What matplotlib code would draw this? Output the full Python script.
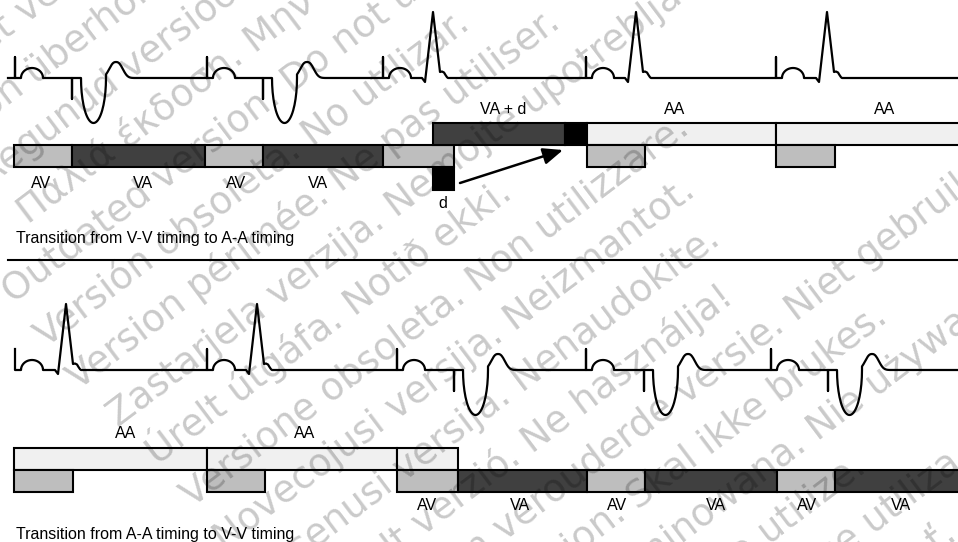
import numpy as np
import matplotlib
matplotlib.use("Agg")
from matplotlib import pyplot as plt
from matplotlib.patches import Rectangle, FancyArrowPatch

plt.rcParams['font.family'] = ['Liberation Sans', 'DejaVu Sans']

W, H = 958, 542

# ---- top strip: transition from V-V timing to A-A timing ----
top_base = 78
top_a_pace = [15, 207, 383, 586, 776]      # atrial pacing spikes
top_v_pace = [72, 263]                      # ventricular pacing spikes
top_r_wave = [433, 636, 827]                # intrinsic R waves

top_main_edges = [14, 72, 205, 263, 383, 454]
top_main_kinds = ['AV', 'VA', 'AV', 'VA', 'AV']
top_upper_edges = [433, 565, 587, 776, 962]
top_upper_kinds = ['VA', 'd', 'AA', 'AA']
top_av_boxes = [(587, 645), (776, 835)]
top_d_box = (433, 454)

top_low_labels = ['AV', 'VA', 'AV', 'VA']
top_low_label_x = [41, 143, 236, 318]
top_up_labels = ['VA + d', 'AA', 'AA']
top_up_label_x = [503, 675, 885]

# ---- bottom strip: transition from A-A timing to V-V timing ----
bot_base = 370
bot_a_pace = [15, 207, 397, 586, 771]
bot_v_pace = [454, 644, 828]
bot_r_wave = [66, 257]

bot_aa_edges = [14, 207, 397, 458]
bot_av_boxes = [(14, 73), (207, 265)]
bot_low_edges = [397, 458, 587, 645, 777, 835, 962]
bot_low_kinds = ['AV', 'VA', 'AV', 'VA', 'AV', 'VA']

bot_up_labels = ['AA', 'AA']
bot_up_label_x = [126, 305]
bot_low_labels = ['AV', 'VA', 'AV', 'VA', 'AV', 'VA']
bot_low_label_x = [427, 520, 617, 716, 807, 901]

colors = {'AV': '#bebebe', 'VA': '#404040', 'AA': '#f0f0f0', 'd': '#000000'}

# watermark (one phrase per diagonal line)
wm_text = [
    "Forældet version. Må ikke anvendes.",
    "Version überholt. Nicht verwenden.",
    "Aegunud versioon. Ärge kasutage.",
    "Παλιά έκδοση. Μην την χρησιμοποιείτε.",
    "Outdated version. Do not use.",
    "Versión obsoleta. No utilizar.",
    "Version périmée. Ne pas utiliser.",
    "Zastarjela verzija. Nemojte upotrebljavati.",
    "Úrelt útgáfa. Notið ekki.",
    "Versione obsoleta. Non utilizzare.",
    "Novecojusi versija. Neizmantot.",
    "Pasenusi versija. Nenaudokite.",
    "Elavult verzió. Ne használja!",
    "Dit is een verouderde versie. Niet gebruiken.",
    "Utdatert versjon. Skal ikke brukes.",
    "Wersja przeterminowana. Nie używać.",
    "Versão obsoleta. Não utilize.",
    "Versiune expirată. A nu se utiliza.",
    "Zastaraná verzia. Nepoužívať.",
]
wm_shift = [0, 0, 50, 60, 0, 0, 0, 10, 18, 20, 20, 30, 48, 60, 45, 70, 50, 45, 50]


def atrial(x0):
    t = np.linspace(0, np.pi, 30)
    px = x0 + 17 - 11 * np.cos(t)
    py = -10 * np.sin(t)
    pts = [(x0, 0), (x0, -21), (x0, 0)]
    return pts + list(zip(px, py))


def paced_v(xv):
    pts = [(xv, 0), (xv, 21), (xv, 0), (xv + 9, 0)]
    t = np.linspace(0, np.pi, 40)
    pts += list(zip(xv + 9 + 12.5 * (1 - np.cos(t)), 45 * np.sin(t)))
    tx = np.linspace(xv + 34, xv + 62, 40)
    pts += list(zip(tx, -16 * np.exp(-np.abs((tx - (xv + 44)) / 8.5) ** 2.5)))
    return pts


def native_r(xr):
    dx = [-11, -8, 0, 7, 9, 11, 12.5, 14, 15]
    dy = [0, 4, -66, -6, -6.5, -5.5, -3, -0.8, 0]
    return [(xr + a, b) for a, b in zip(dx, dy)]


def trace(base, a_pace, v_pace, r_wave, start=None):
    events = [(x, atrial) for x in a_pace] + [(x, paced_v) for x in v_pace] \
        + [(x, native_r) for x in r_wave]
    events.sort(key=lambda e: e[0])
    pts = []
    if start is not None:
        pts.append((start, 0))
    for x, f in events:
        seg = f(x)
        if start is None and not pts:
            seg = seg[1:]
        pts += seg
    pts.append((W, 0))
    arr = np.array(pts, dtype=float)
    return arr[:, 0], arr[:, 1] + base


fig = plt.figure(figsize=(W / 100, H / 100), dpi=100)
ax = fig.add_axes([0, 0, 1, 1])
ax.set_xlim(0, W)
ax.set_ylim(H, 0)
ax.axis('off')

lw = 1.5
fs = 11.5


def box(x0, x1, y0, y1, kind):
    ax.add_patch(Rectangle((x0, y0), x1 - x0, y1 - y0, facecolor=colors[kind],
                           edgecolor='black', lw=lw, zorder=2))


# ECG traces
x, y = trace(top_base, top_a_pace, top_v_pace, top_r_wave, start=8)
ax.plot(x, y, color='black', lw=1.6, zorder=3)
x, y = trace(bot_base, bot_a_pace, bot_v_pace, bot_r_wave)
ax.plot(x, y, color='black', lw=1.6, zorder=3)

# top timing bars
for i, k in enumerate(top_main_kinds):
    box(top_main_edges[i], top_main_edges[i + 1], 145, 167, k)
for i, k in enumerate(top_upper_kinds):
    box(top_upper_edges[i], top_upper_edges[i + 1], 123, 145, k)
for a, b in top_av_boxes:
    box(a, b, 145, 167, 'AV')
box(top_d_box[0], top_d_box[1], 167, 190, 'd')

for s, xl in zip(top_low_labels, top_low_label_x):
    ax.text(xl, 183, s, ha='center', va='center', fontsize=fs)
ax.text(443, 204, 'd', ha='center', va='center', fontsize=fs)
for s, xl in zip(top_up_labels, top_up_label_x):
    ax.text(xl, 110, s, ha='center', va='center', fontsize=fs)

ax.add_patch(FancyArrowPatch((460, 183), (563, 150),
                             arrowstyle='-|>,head_length=0.6,head_width=0.25',
                             mutation_scale=20, lw=1.8, color='black',
                             shrinkA=0, shrinkB=0, zorder=4))

ax.text(16, 239, 'Transition from V-V timing to A-A timing', ha='left',
        va='center', fontsize=fs)
ax.plot([8, W], [260, 260], color='black', lw=lw)

# bottom timing bars
for i in range(len(bot_aa_edges) - 1):
    box(bot_aa_edges[i], bot_aa_edges[i + 1], 448, 470, 'AA')
for a, b in bot_av_boxes:
    box(a, b, 470, 492, 'AV')
for i, k in enumerate(bot_low_kinds):
    box(bot_low_edges[i], bot_low_edges[i + 1], 470, 492, k)

for s, xl in zip(bot_up_labels, bot_up_label_x):
    ax.text(xl, 433, s, ha='center', va='center', fontsize=fs)
for s, xl in zip(bot_low_labels, bot_low_label_x):
    ax.text(xl, 506, s, ha='center', va='center', fontsize=fs)
ax.text(16, 534, 'Transition from A-A timing to V-V timing', ha='left',
        va='center', fontsize=fs)

# diagonal watermark
ang = np.deg2rad(37)
d = np.array([np.cos(ang), -np.sin(ang)])
perp = np.array([np.sin(ang), np.cos(ang)]) * 54
origin = np.array([13.0, 304.0])
for i, (s, sh) in enumerate(zip(wm_text, wm_shift)):
    k = i - 4
    p = origin + k * perp + sh * d
    ax.text(p[0], p[1], s, rotation=37, rotation_mode='anchor', ha='left',
            va='baseline', fontsize=27, family='DejaVu Sans', color='black',
            alpha=0.21, zorder=5)

fig.savefig('out.png', dpi=100)
